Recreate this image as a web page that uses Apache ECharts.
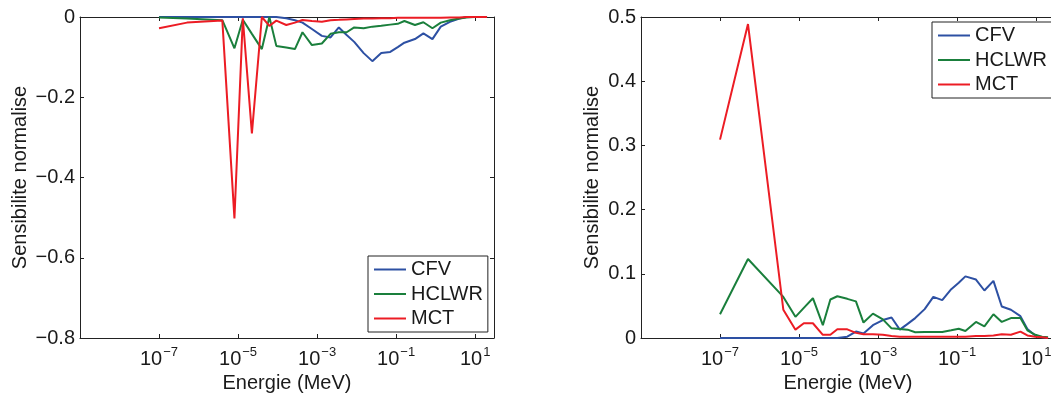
<!DOCTYPE html>
<html><head><meta charset="utf-8">
<script src="https://cdn.jsdelivr.net/npm/echarts@6/dist/echarts.min.js"></script>
<style>html,body{margin:0;padding:0;background:#fff;overflow:hidden;width:1051px;height:394px}#c{width:1100px;height:394px}</style>
</head><body><div id="c"></div>
<script>
// Energy group grid (MeV)
const energies = [1e-7, 5.1e-7, 4.0e-6, 8.1e-6, 1.32e-5, 2.24e-5, 4.0e-5, 6.2e-5, 9.3e-5, 1.66e-4,
  2.75e-4, 4.27e-4, 7.4e-4, 1.32e-3, 2.19e-3, 3.55e-3, 5.6e-3, 8.7e-3, 1.51e-2, 2.5e-2,
  4.2e-2, 7.1e-2, 0.11, 0.162, 0.30, 0.49, 0.83, 1.35, 2.3, 4.0, 6.0, 9.5, 14.1, 20];
const seriesNames = ['CFV', 'HCLWR', 'MCT'];
// Left panel (negative sensitivities)
const cfvLeft = [0, 0, 0, 0, 0, 0, 0, 0, 0, -0.003,
  -0.008, -0.014, -0.030, -0.047, -0.051, -0.026, -0.045, -0.062, -0.090, -0.110,
  -0.090, -0.087, -0.075, -0.064, -0.055, -0.041, -0.055, -0.024, -0.012, -0.004, 0, 0, 0, 0];
const hclwrLeft = [-0.001, -0.004, -0.008, -0.078, -0.007, -0.042, -0.080, 0.000, -0.072, -0.076,
  -0.080, -0.038, -0.070, -0.066, -0.042, -0.038, -0.038, -0.026, -0.028, -0.024,
  -0.022, -0.019, -0.017, -0.010, -0.020, -0.013, -0.028, -0.014, -0.008, -0.004, -0.001, 0, 0, 0];
const mctLeft = [-0.028, -0.014, -0.009, -0.502, -0.003, -0.290, 0.000, -0.022, -0.009, -0.020,
  -0.014, -0.0075, -0.010, -0.012, -0.008, -0.007, -0.006, -0.005, -0.004, -0.004,
  -0.003, -0.003, -0.002, -0.002, -0.002, -0.002, -0.002, -0.002, -0.001, -0.001, 0, 0, 0, 0];
// Right panel (positive sensitivities)
const cfvRight = [0, 0, 0, 0, 0, 0, 0, 0, 0, 0.002,
  0.010, 0.007, 0.020, 0.028, 0.032, 0.013, 0.022, 0.031, 0.045, 0.064,
  0.059, 0.076, 0.086, 0.096, 0.091, 0.074, 0.089, 0.049, 0.044, 0.034, 0.014, 0.004, 0.001, 0];
const hclwrRight = [0.037, 0.123, 0.064, 0.033, 0.047, 0.062, 0.020, 0.060, 0.065, 0.061,
  0.057, 0.024, 0.038, 0.029, 0.015, 0.014, 0.013, 0.009, 0.0095, 0.0095,
  0.0095, 0.012, 0.0145, 0.011, 0.025, 0.018, 0.037, 0.025, 0.031, 0.031, 0.012, 0.005, 0.002, 0.001];
const mctRight = [0.309, 0.489, 0.044, 0.013, 0.023, 0.023, 0.005, 0.005, 0.0135, 0.0135,
  0.008, 0.006, 0.006, 0.005, 0.003, 0.002, 0.002, 0.002, 0.002, 0.002,
  0.002, 0.002, 0.002, 0.002, 0.003, 0.003, 0.004, 0.006, 0.005, 0.010, 0.004, 0.002, 0.001, 0];
// Axis ranges / tick labels
const xMin = 1e-9, xMax = 30;
const xTickExponents = [-7, -5, -3, -1, 1];
const yLeftTicks = [-0.8, -0.6, -0.4, -0.2, 0];
const yRightTicks = [0, 0.1, 0.2, 0.3, 0.4, 0.5];
const xTitle = 'Energie (MeV)';
const yTitle = 'Sensibilite normalise';

const FONT = 'Liberation Sans';
const TXT = '#1a1a1a';
const AX = '#222';
const colors = ['#2d50a3', '#1a7f3c', '#ec1c24'];

const chart = echarts.init(document.getElementById('c'), null, {renderer: 'canvas', width: 1100, height: 394});

function xAxisCfg(gi, pos, labels) {
  return {
    type: 'log', logBase: 10, gridIndex: gi, position: pos, min: xMin, max: xMax, interval: 2,
    axisLine: {show: true, onZero: false, lineStyle: {color: AX, width: 1}},
    axisTick: {show: true, inside: true, length: 4, lineStyle: {color: AX}},
    minorTick: {show: false}, splitLine: {show: false},
    axisLabel: labels ? {
      show: true, margin: 8, showMinLabel: true, showMaxLabel: true,
      formatter: v => {
        const l = Math.log10(v), e = Math.round(l);
        if (Math.abs(l - e) > 1e-6 || xTickExponents.indexOf(e) < 0) return '';
        return '{b|10}{s|' + (e < 0 ? '\u2212' : '') + Math.abs(e) + '}';
      },
      rich: {
        b: {fontFamily: FONT, fontSize: 20, color: TXT, lineHeight: 26},
        s: {fontFamily: FONT, fontSize: 13, color: TXT, lineHeight: 14, verticalAlign: 'top', padding: [0, 0, 0, 1]}
      }
    } : {show: false},
    name: labels ? xTitle : '', nameLocation: 'middle', nameGap: 33,
    nameTextStyle: {fontFamily: FONT, fontSize: 20, color: TXT}
  };
}
function yAxisCfg(gi, pos, labels, ticks, gap) {
  return {
    type: 'value', gridIndex: gi, position: pos, min: ticks[0], max: ticks[ticks.length - 1], interval: 0.1 * Math.round((ticks[1] - ticks[0]) * 10),
    axisLine: {show: true, onZero: false, lineStyle: {color: AX, width: 1}},
    axisTick: {show: true, inside: true, length: 4, lineStyle: {color: AX}},
    splitLine: {show: false},
    axisLabel: labels ? {
      show: true, margin: 5, fontFamily: FONT, fontSize: 20, color: TXT,
      formatter: v => Math.abs(v) < 1e-9 ? '0' : (v < 0 ? '\u2212' : '') + Math.abs(v).toFixed(1)
    } : {show: false},
    name: labels ? yTitle : '', nameLocation: 'middle', nameRotate: 90, nameGap: gap || 50,
    nameTextStyle: {fontFamily: FONT, fontSize: 20, color: TXT}
  };
}
function lineSeries(name, xi, yi, vals, color) {
  return {
    name: name, type: 'line', xAxisIndex: xi, yAxisIndex: yi, symbol: 'none', showSymbol: false,
    data: energies.map((e, i) => [e, vals[i]]),
    lineStyle: {color: color, width: 2}, itemStyle: {color: color}, clip: true, silent: true
  };
}
function legendCfg(left, top, padRight) {
  return {
    orient: 'vertical', left: left, top: top, data: seriesNames, selectedMode: false,
    icon: 'rect', itemWidth: 32, itemHeight: 2, itemGap: 4.5,
    padding: [3.5, padRight, 3.5, 6],
    backgroundColor: '#fff', borderColor: AX, borderWidth: 1, borderRadius: 0,
    textStyle: {fontFamily: FONT, fontSize: 20, color: TXT, lineHeight: 20}
  };
}

chart.setOption({
  animation: false,
  backgroundColor: '#fff',
  textStyle: {fontFamily: FONT},
  grid: [
    {left: 80, top: 17, width: 414, height: 321, containLabel: false, outerBoundsMode: 'none'},
    {left: 641, top: 17, width: 414, height: 321, containLabel: false, outerBoundsMode: 'none'}
  ],
  xAxis: [xAxisCfg(0, 'bottom', true), xAxisCfg(0, 'top', false), xAxisCfg(1, 'bottom', true), xAxisCfg(1, 'top', false)],
  yAxis: [yAxisCfg(0, 'left', true, yLeftTicks, 50), yAxisCfg(0, 'right', false, yLeftTicks),
          yAxisCfg(1, 'left', true, yRightTicks, 38.5), yAxisCfg(1, 'right', false, yRightTicks)],
  legend: [legendCfg(368, 256, 5), legendCfg(932, 22, 30)],
  series: [
    lineSeries('CFV', 0, 0, cfvLeft, colors[0]),
    lineSeries('HCLWR', 0, 0, hclwrLeft, colors[1]),
    lineSeries('MCT', 0, 0, mctLeft, colors[2]),
    lineSeries('CFV', 2, 2, cfvRight, colors[0]),
    lineSeries('HCLWR', 2, 2, hclwrRight, colors[1]),
    lineSeries('MCT', 2, 2, mctRight, colors[2])
  ]
});
</script></body></html>
